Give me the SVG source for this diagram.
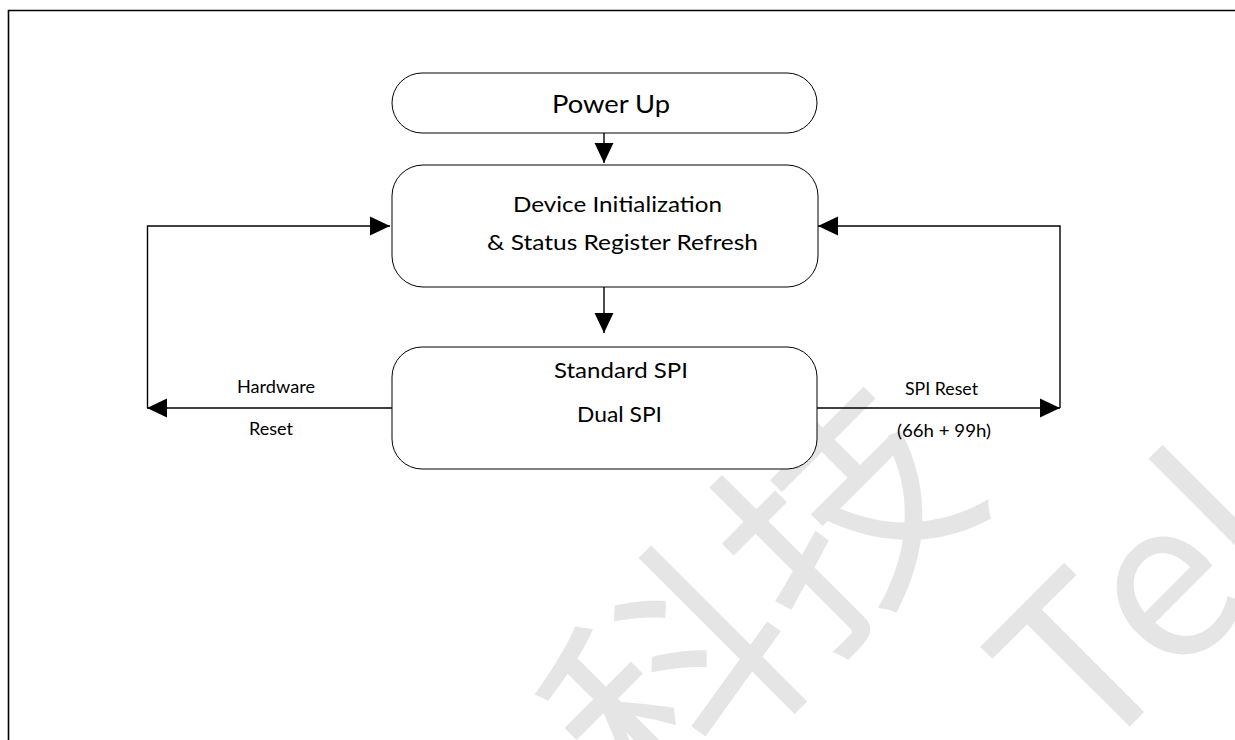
<svg xmlns="http://www.w3.org/2000/svg" width="1235" height="740" viewBox="0 0 1235 740">
<defs>
<style>
.box{fill:#fff;stroke:#000;stroke-width:1}
.lbl{font-family:Lato,"Noto Sans","Liberation Sans",sans-serif;fill:#000}
.big{font-size:25px}
.mid{font-size:22px}
.sm{font-size:17px}
.con{fill:none;stroke:#000;stroke-width:1.4}
.wm{font-family:"Noto Sans CJK SC","Noto Sans",sans-serif;font-weight:400;fill:#e5e5e5}
</style>
<marker id="ah" markerUnits="userSpaceOnUse" markerWidth="20" markerHeight="20" viewBox="0 0 18 17" refX="18" refY="8.5" orient="auto">
<path d="M0,0 L18,8.5 L0,17 Z" fill="#000"/>
</marker>
</defs>
<rect width="1235" height="740" fill="#fff"/>
<g id="watermark">
<text class="wm" font-size="240" transform="translate(652,830) rotate(-45)">科技</text>
<text class="wm" font-size="221" transform="translate(1090,766) rotate(-45)">Tek</text>
</g>
<path d="M8.5,740 V10.5 H1235" fill="none" stroke="#000" stroke-width="1.6"/>
<g id="connectors">
<path class="con" d="M604,133 V163" marker-end="url(#ah)"/>
<path class="con" d="M604,287 V333" marker-end="url(#ah)"/>
<path class="con" d="M392,408 H147" marker-end="url(#ah)"/>
<path class="con" d="M147.5,408 V226 H390" marker-end="url(#ah)"/>
<path class="con" d="M817,408 H1060" marker-end="url(#ah)"/>
<path class="con" d="M1060,408 V226 H818" marker-end="url(#ah)"/>
</g>
<g id="power-up">
<rect class="box" x="392" y="73" width="425" height="60" rx="30"/>
<text class="lbl big" x="552" y="113" textLength="118" lengthAdjust="spacingAndGlyphs">Power Up</text>
</g>
<g id="device-init">
<rect class="box" x="392" y="165" width="426" height="122" rx="31"/>
<text class="lbl mid" x="513" y="212" textLength="209" lengthAdjust="spacingAndGlyphs">Device Initialization</text>
<text class="lbl mid" x="487" y="250" textLength="271" lengthAdjust="spacingAndGlyphs">&amp; Status Register Refresh</text>
</g>
<g id="spi-mode">
<rect class="box" x="392" y="347" width="425" height="122" rx="30"/>
<text class="lbl mid" x="554" y="378" textLength="134" lengthAdjust="spacingAndGlyphs">Standard SPI</text>
<text class="lbl mid" x="577" y="422" textLength="85" lengthAdjust="spacingAndGlyphs">Dual SPI</text>
</g>
<g id="labels">
<text class="lbl sm" x="237" y="393" textLength="78" lengthAdjust="spacingAndGlyphs">Hardware</text>
<text class="lbl sm" x="249" y="435" textLength="44" lengthAdjust="spacingAndGlyphs">Reset</text>
<text class="lbl sm" x="905" y="395" textLength="73" lengthAdjust="spacingAndGlyphs">SPI Reset</text>
<text class="lbl sm" x="897" y="437" textLength="94" lengthAdjust="spacingAndGlyphs">(66h + 99h)</text>
</g>
</svg>
